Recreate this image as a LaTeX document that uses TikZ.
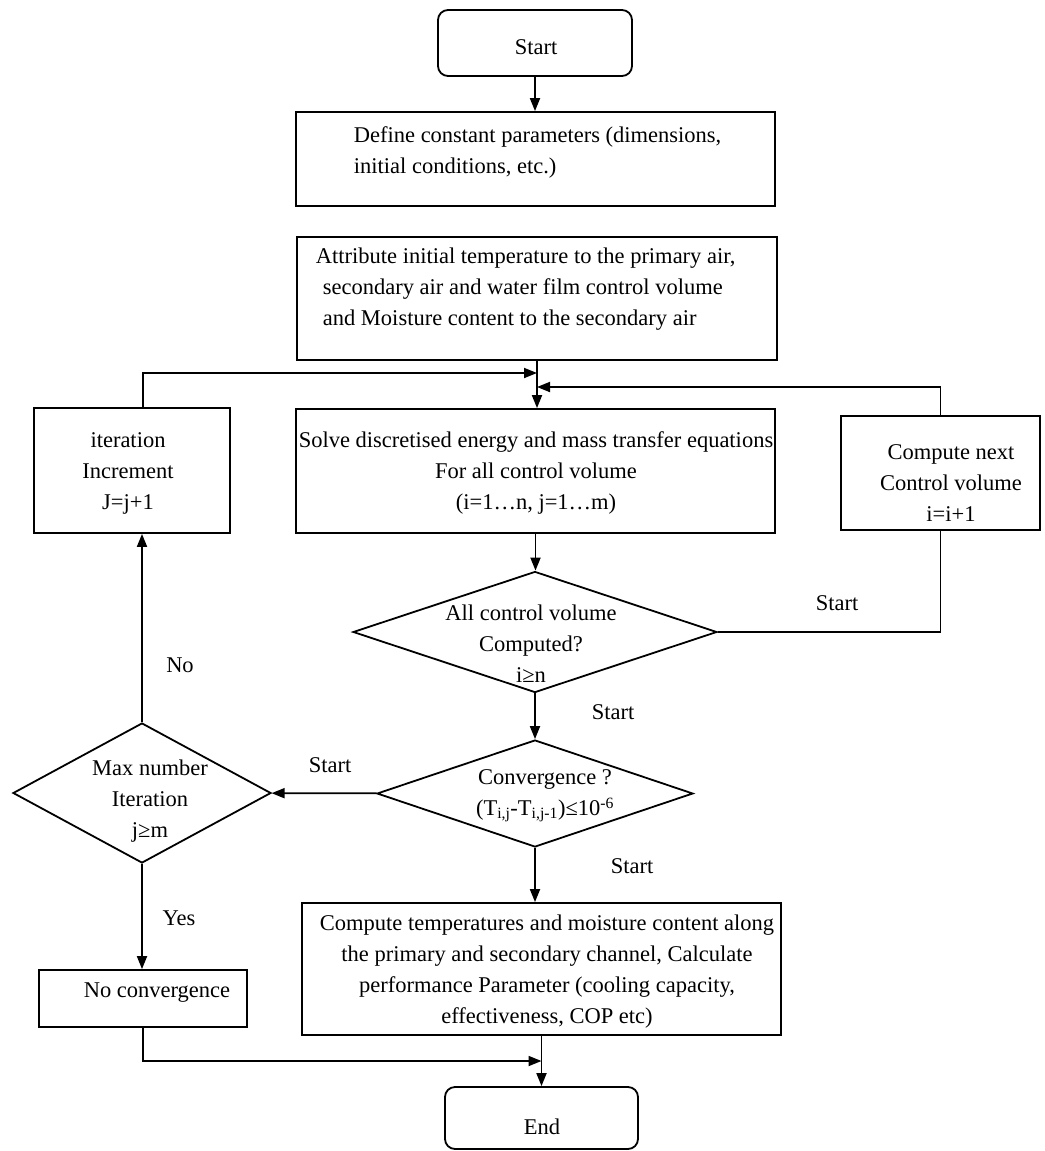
\documentclass[tikz,border=0pt]{standalone}
\usepackage{fontspec}
\setmainfont{Liberation Serif}
\usetikzlibrary{shapes.geometric,arrows.meta}
\begin{document}
\begin{tikzpicture}[x=1pt, y=-1pt, line width=1.8pt,
    font=\fontsize{22.5}{31}\selectfont,
    >={Triangle[length=13pt,width=10pt]},
    terminal/.style={draw, rounded corners=10pt, inner sep=0pt},
    procbox/.style={draw, inner sep=0pt},
    decision/.style={draw, diamond, inner sep=0pt},
    plain/.style={inner sep=0pt, align=center}]
\useasboundingbox (0,0) rectangle (1044,1151);

\node[terminal, minimum width=194pt, minimum height=66pt] (start) at (535,43) {};
\node[plain] (starttxt) at (536,47) {Start};

\node[procbox, minimum width=479pt, minimum height=94pt] (define) at (535.5,159) {};
\node[plain, align=left, anchor=west] (definetxt) at (353,152.5) {Define constant parameters (dimensions,\\initial conditions, etc.)};

\node[procbox, minimum width=480pt, minimum height=123pt] (attr) at (537,298.5) {};
\node[plain, align=left, anchor=west] (attrtxt) at (315,289) {Attribute initial temperature to the primary air,\\\hspace*{7pt}secondary air and water film control volume\\\hspace*{7pt}and Moisture content to the secondary air};

\node[procbox, minimum width=479pt, minimum height=124pt] (solve) at (535.5,471) {};
\node[plain] (solvetxt) at (536,473) {Solve discretised energy and mass transfer equations\\For all control volume\\(i=1…n, j=1…m)};

\node[procbox, minimum width=196pt, minimum height=125pt] (iter) at (132,470.5) {};
\node[plain] (itertxt) at (128,473) {iteration\\Increment\\J=j+1};

\node[procbox, minimum width=199pt, minimum height=114pt] (next) at (940.5,473) {};
\node[plain] (nexttxt) at (951,483) {Compute next\\Control volume\\i=i+1};

\node[decision, minimum width=364pt, minimum height=121pt] (allcv) at (535,632) {};
\node[plain] (allcvtxt) at (531,643.5) {All control volume\\Computed?\\i≥n};

\node[decision, minimum width=316pt, minimum height=107pt] (conv) at (535,793.5) {};
\node[plain] (convtxt) at (545,796) {Convergence ?\\(T\textsubscript{i,j}-T\textsubscript{i,j-1})≤10\textsuperscript{-6}};

\node[decision, minimum width=258pt, minimum height=140pt] (maxit) at (142,793) {};
\node[plain] (maxittxt) at (150,801.5) {Max number\\Iteration\\j≥m};

\node[procbox, minimum width=479pt, minimum height=132pt] (result) at (541.5,969) {};
\node[plain] (resulttxt) at (547,972) {Compute temperatures and moisture content along\\the primary and secondary channel, Calculate\\performance Parameter (cooling capacity,\\effectiveness, COP etc)};

\node[procbox, minimum width=208pt, minimum height=57pt] (noconv) at (143,998.5) {};
\node[plain] (noconvtxt) at (157,993) {No convergence};

\node[terminal, minimum width=193pt, minimum height=62pt] (finish) at (541.5,1118) {};
\node[plain] (finishtxt) at (542,1127) {End};

\coordinate (joinleft) at (537,373);
\coordinate (joinright) at (537,387);
\coordinate (joinend) at (541.5,1061);

\draw[->] (start.south) -- (start.south |- define.north);
\draw[->] (attr.south) -- (attr.south |- solve.north);
\draw[->] ([xshift=11pt]iter.north) |- (joinleft);
\draw[->] (next.north) |- (joinright);
\draw[->] (solve.south) -- (solve.south |- allcv.north);
\draw (allcv.east) -| (next.south);
\draw[->] (allcv) -- (conv);
\draw[->] (conv) -- (maxit);
\draw[->] (maxit.north) -- (maxit.north |- iter.south);
\draw[->] (maxit.south) -- (maxit.south |- noconv.north);
\draw[->] (conv.south) -- (conv.south |- result.north);
\draw[->] (noconv.south) |- (joinend);
\draw[->] (result) -- (finish);

\foreach \lx/\ly [count=\k] in {837/603, 613/712, 330/765, 632/866}
{
    \node[plain] (startlbl\k) at (\lx,\ly) {Start};
}
\node[plain] (nolbl) at (180,665) {No};
\node[plain] (yeslbl) at (179,918) {Yes};
\end{tikzpicture}
\end{document}
